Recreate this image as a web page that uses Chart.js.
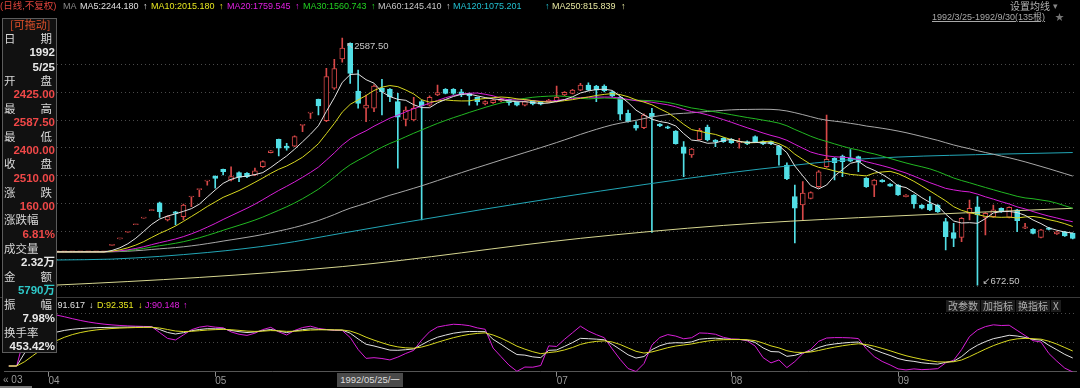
<!DOCTYPE html>
<html>
<head>
<meta charset="utf-8">
<script src="https://cdn.jsdelivr.net/npm/chart.js@4.4.1/dist/chart.umd.min.js"></script>
<style>
  html, body { margin: 0; background: #000; }
  body { position: relative; width: 1080px; height: 388px; overflow: hidden;
         font-family: "Liberation Sans", "Noto Sans CJK SC", sans-serif; }
  canvas { position: absolute; left: 0; }
  #priceChart { top: 0; }
  #kdjChart { top: 297px; }
  .t { position: absolute; white-space: nowrap; font-size: 9px; line-height: 12px; }
  #sep { position: absolute; left: 0; top: 297px; width: 1080px; height: 1px; background: #3a3a3a; }
  #panel { position: absolute; left: 2px; top: 18px; width: 53px; height: 333px; background: #111;
           border: 1px solid #5c5c5c; }
  .lab { position: absolute; left: 4px; width: 48px; height: 14px; line-height: 14px; font-size: 11.5px;
         color: #d8d8d8; font-family: "Noto Sans CJK SC", sans-serif; display: flex; justify-content: space-between; }
  .val { position: absolute; left: 3px; width: 52px; height: 14px; line-height: 14px; text-align: right;
         font-size: 11.5px; font-weight: bold; color: #e8e8e8; }
  .red { color: #f04848; }
  .btn { position: absolute; top: 300px; height: 12px; line-height: 12px; font-size: 10px; color: #b0b0b0;
         background: #1c1c1c; padding: 0 2px; font-family: "Noto Sans CJK SC", sans-serif; }
</style>
</head>
<body>
<canvas id="priceChart" width="1080" height="297"></canvas>
<canvas id="kdjChart" width="1080" height="91"></canvas>
<div id="sep"></div>

<!-- top header -->
<div class="t" style="left:0;top:0;color:#e0443c;font-size:9.5px">(日线,不复权)</div>
<div class="t" style="left:63px;top:0;color:#8a8a8a">MA</div>
<div class="t" style="left:80px;top:0;color:#e0e0e0">MA5:2244.180</div>
<div class="t" style="left:143px;top:0;color:#e0e0e0">↑</div>
<div class="t" style="left:151px;top:0;color:#e6e620">MA10:2015.180</div>
<div class="t" style="left:219px;top:0;color:#e6e620">↑</div>
<div class="t" style="left:227px;top:0;color:#e020e0">MA20:1759.545</div>
<div class="t" style="left:295px;top:0;color:#e020e0">↑</div>
<div class="t" style="left:303px;top:0;color:#22d022">MA30:1560.743</div>
<div class="t" style="left:371px;top:0;color:#22d022">↑</div>
<div class="t" style="left:378px;top:0;color:#c8c8c8">MA60:1245.410</div>
<div class="t" style="left:446px;top:0;color:#c8c8c8">↑</div>
<div class="t" style="left:453px;top:0;color:#22c0d0">MA120:1075.201</div>
<div class="t" style="left:545px;top:0;color:#22c0d0">↑</div>
<div class="t" style="left:552px;top:0;color:#e6e6a0">MA250:815.839</div>
<div class="t" style="left:621px;top:0;color:#e6e6a0">↑</div>
<div class="t" style="left:1010px;top:0;color:#b4b4b4;font-size:10px;font-family:'Noto Sans CJK SC'">设置均线</div>
<div class="t" style="left:1053px;top:0;color:#888">▾</div>
<div class="t" style="left:932px;top:11px;color:#a8a8a8;text-decoration:underline">1992/3/25-1992/9/30(135根)</div>
<div class="t" style="left:1055px;top:11px;color:#777">★</div>

<!-- KDJ header -->
<div class="t" style="left:49px;top:299px;color:#e0e0e0">K:91.617</div>
<div class="t" style="left:89px;top:299px;color:#e0e0e0">↓</div>
<div class="t" style="left:97px;top:299px;color:#e6e620">D:92.351</div>
<div class="t" style="left:138px;top:299px;color:#e6e620">↓</div>
<div class="t" style="left:145px;top:299px;color:#e020e0">J:90.148</div>
<div class="t" style="left:183px;top:299px;color:#e020e0">↑</div>
<div class="btn" style="left:946px">改参数</div>
<div class="btn" style="left:981px">加指标</div>
<div class="btn" style="left:1016px">换指标</div>
<div class="btn" style="left:1051px">X</div>

<!-- bottom row -->
<div class="t" style="left:3px;top:374px;color:#999;font-size:10px">« 03</div>
<div class="t" style="left:337px;top:373px;width:66px;height:14px;line-height:14px;background:#4a4a4a;color:#ddd;font-size:9.5px;text-align:center">1992/05/25/一</div>
<div style="position:absolute;left:0;top:386px;width:32px;height:2px;background:#777"></div>

<!-- data window -->
<div id="panel"></div>
<div class="t" style="left:10px;top:18px;color:#e0502a;font-size:11px;font-family:'Noto Sans CJK SC'">[可拖动]</div>
<div class="lab" style="top:31px"><span>日</span><span>期</span></div>
<div class="val" style="top:45px">1992</div>
<div class="val" style="top:60px">5/25</div>
<div class="lab" style="top:73px"><span>开</span><span>盘</span></div>
<div class="val red" style="top:87px">2425.00</div>
<div class="lab" style="top:101px"><span>最</span><span>高</span></div>
<div class="val red" style="top:115px">2587.50</div>
<div class="lab" style="top:129px"><span>最</span><span>低</span></div>
<div class="val red" style="top:143px">2400.00</div>
<div class="lab" style="top:156px"><span>收</span><span>盘</span></div>
<div class="val red" style="top:171px">2510.00</div>
<div class="lab" style="top:185px"><span>涨</span><span>跌</span></div>
<div class="val red" style="top:199px">160.00</div>
<div class="lab" style="top:212px"><span>涨跌幅</span></div>
<div class="val red" style="top:227px">6.81%</div>
<div class="lab" style="top:241px"><span>成交量</span></div>
<div class="val" style="top:255px">2.32万</div>
<div class="lab" style="top:269px"><span>金</span><span>额</span></div>
<div class="val" style="top:283px;color:#2ec8c8">5790万</div>
<div class="lab" style="top:297px"><span>振</span><span>幅</span></div>
<div class="val" style="top:311px">7.98%</div>
<div class="lab" style="top:325px"><span>换手率</span></div>
<div class="val" style="top:339px">453.42%</div>

<script>
// daily bars 1992/3/25 - 1992/9/30 (135 bars)
const opens = [930,930,930,930,930,930,930,930,930,930,930,930,930,
  980,1031,1082,1140,1192,1250,1311,1177,1241,1203,1355,1412,1478,1518,1570,1487,1544,
  1539,1526,1590,1699,1802,1750,1750,1910,2005,2112,1947,2198,2425,2546,2177,2043,2043,
  2198,2190,2094,1957,1952,2094,2068,2146,2190,2190,2171,2159,2128,2076,2086,2100,2112,
  2089,2068,2102,2094,2091,2094,2146,2159,2184,2223,2215,2215,2171,2128,2004,1913,1892,
  2004,1921,1900,1867,1745,1681,1799,1898,1797,1810,1802,1776,1784,1824,1784,1784,1750,
  1603,1359,1293,1345,1435,1590,1655,1673,1655,1668,1500,1448,1487,1456,1448,1358,1371,
  1293,1301,1293,1164,1079,1043,1229,1280,1198,1203,1268,1198,1255,1113,1105,1043,1117,
  1069,1086,1074];
const highs = [930,930,930,930,930,930,930,930,930,930,930,930,930,
  984,1035,1086,1144,1196,1255,1315,1210,1245,1300,1358,1415,1482,1520,1572,1590,1550,
  1545,1580,1635,1716,1805,1771,1830,1913,2009,2115,2353,2422,2587.5,2550,2340,2146,2225,
  2267,2195,2159,2055,2128,2107,2140,2223,2195,2195,2190,2160,2130,2100,2110,2120,2115,
  2092,2100,2105,2097,2112,2215,2172,2190,2236,2241,2220,2225,2175,2135,2030,1939,2000,
  2043,1925,1905,1870,1784,1732,1888,1913,1800,1815,1808,1810,1790,1830,1790,1788,1755,
  1621,1448,1474,1395,1560,1991,1660,1680,1723,1672,1505,1490,1490,1460,1452,1375,1375,
  1297,1358,1297,1190,1151,1195,1332,1358,1235,1293,1272,1280,1260,1151,1110,1105,1120,
  1090,1090,1078];
const lows = [930,930,930,930,930,930,930,930,930,930,930,930,930,
  980,1031,1082,1140,1192,1250,1198,1170,1138,1177,1280,1358,1448,1423,1526,1480,1474,
  1505,1520,1585,1697,1673,1719,1745,1861,1965,1991,1940,2190,2400,2236,2043,1939,2016,
  1991,2094,1578,1906,1945,1177,2060,2140,2155,2150,2133,2068,2068,2070,2080,2095,2068,
  2062,2062,2070,2070,2088,2090,2140,2155,2180,2180,2094,2170,2130,1952,1935,1874,1885,
  1080,1900,1884,1765,1513,1663,1795,1790,1745,1778,1770,1733,1760,1778,1760,1760,1603,
  1490,999,1177,1340,1430,1585,1487,1513,1630,1551,1430,1358,1470,1437,1368,1355,1268,
  1263,1250,1236,945,970,1009,1177,672.5,1061,1198,1236,1193,1086,1110,1070,1038,1100,
  1065,1050,1030];
const closes = [930,930,930,930,930,930,930,930,930,930,930,930,930,
  984,1035,1086,1144,1196,1255,1241,1203,1229,1293,1358,1415,1482,1500,1551,1513,1508,
  1513,1559,1629,1714,1733,1733,1823,1913,2009,2061,2288,2350,2510,2314,2081,2068,2215,
  2171,2133,1975,2030,2043,2061,2128,2164,2159,2159,2146,2138,2094,2094,2107,2115,2086,
  2068,2094,2076,2074,2107,2128,2167,2184,2223,2184,2184,2179,2138,1998,1939,1888,1991,
  1978,1906,1888,1768,1694,1727,1872,1797,1784,1784,1776,1784,1766,1784,1766,1766,1681,
  1497,1268,1386,1389,1551,1647,1621,1629,1634,1626,1435,1487,1474,1440,1371,1371,1301,
  1268,1255,1241,1048,1035,1190,1268,1216,1229,1255,1241,1275,1172,1125,1074,1100,1105,
  1086,1053,1035];

// price before the window (flat lines at the left edge)
const priorClose = 930;

// long averages at sample bars
const ma120Idx = [0, 6, 13, 25, 34, 42, 50, 69, 91, 98, 105, 112, 125, 134];
const ma120Val = [859, 867, 874, 925, 990, 1075, 1160, 1350, 1545, 1595, 1640, 1665, 1688, 1700];
const ma250Idx = [0, 6, 42, 72, 90, 107, 134];
const ma250Val = [663, 673, 816, 1035, 1135, 1195, 1268];

const maPeriods = [5, 10, 20, 30, 60];
const maColors = ['#e2e2e2', '#d8d820', '#d81ed8', '#22b822', '#a8a8a8'];

// axis marks
const monthIdx = [5, 26, 69, 91, 112];
const monthLabels = ['04', '05', '07', '08', '09'];
const priceGrid = [2384, 2168, 1952, 1737, 1521, 1305, 1090, 874, 658];
const kdjGrid = [59.8, 135.1];
const kdjFirst = 2;

const RED = '#d84848', CYAN = '#52dfe6';
const labels = closes.map((_, i) => i);
const up = closes.map((c, i) => c >= opens[i]);

function movingAverage(n) {
    return closes.map((_, i) => {
        let s = 0;
        for (let k = i - n + 1; k <= i; k++) s += k >= 0 ? closes[k] : priorClose;
        return s / n;
    });
}

function sparse(idx, vals) {
    const out = closes.map(() => null);
    idx.forEach((i, j) => { out[i] = vals[j]; });
    return out;
}

/* KDJ(9,3,3) from the bars */
const K = [], D = [], J = [];
let k = 0, d = 0;
for (let i = 0; i < closes.length; i++) {
    if (i < kdjFirst) { K.push(0); D.push(0); J.push(0); continue; }
    let hh = -Infinity, ll = Infinity;
    for (let t = i - 8; t <= i; t++) {
        hh = Math.max(hh, t >= 0 ? highs[t] : priorClose);
        ll = Math.min(ll, t >= 0 ? lows[t] : priorClose);
    }
    const rsv = hh === ll ? 100 : (closes[i] - ll) / (hh - ll) * 100;
    k = (2 * k + rsv) / 3;
    d = (2 * d + k) / 3;
    K.push(k); D.push(d); J.push(3 * k - 2 * d);
}

const lineDs = (data, color, extra) => Object.assign({
    type: 'line', data, borderColor: color, borderWidth: 1, pointRadius: 0, tension: 0, order: 0
}, extra || {});

const maDatasets = maPeriods.map((n, j) => lineDs(movingAverage(n), maColors[j]));
maDatasets.push(lineDs(sparse(ma120Idx, ma120Val), '#22a6b6', { spanGaps: true, cubicInterpolationMode: 'monotone' }));
maDatasets.push(lineDs(sparse(ma250Idx, ma250Val), '#d6d690', { spanGaps: true, cubicInterpolationMode: 'monotone' }));

/* high / low labels */
const extremes = {
    id: 'extremes',
    afterDatasetsDraw(chart) {
        const { ctx, scales: { x, y } } = chart;
        const hi = highs.indexOf(Math.max(...highs));
        const lo = lows.indexOf(Math.min(...lows));
        ctx.save();
        ctx.fillStyle = '#c8c8c8';
        ctx.font = '9.5px "Liberation Sans", "DejaVu Sans"';
        ctx.textBaseline = 'middle';
        ctx.fillText('↖' + highs[hi].toFixed(2), x.getPixelForValue(hi) + 4, y.getPixelForValue(highs[hi]) + 8);
        ctx.fillText('↙' + lows[lo].toFixed(2), x.getPixelForValue(lo) + 5, y.getPixelForValue(lows[lo]) - 4);
        ctx.restore();
    }
};

new Chart(document.getElementById('priceChart'), {
    type: 'bar',
    data: {
        labels,
        datasets: [
            {
                data: lows.map((l, i) => [l, highs[i]]),
                backgroundColor: up.map(u => u ? RED : CYAN),
                barThickness: 1, grouped: false, order: 2
            },
            {
                data: opens.map((o, i) => [o, closes[i]]),
                backgroundColor: up.map(u => u ? '#000' : CYAN),
                borderColor: up.map(u => u ? RED : CYAN),
                borderWidth: 1, borderSkipped: false, minBarLength: 1,
                barThickness: 5, grouped: false, order: 1
            },
            ...maDatasets
        ]
    },
    options: {
        responsive: false, animation: false, devicePixelRatio: 1, events: [],
        layout: { padding: { left: 4.8, right: 3.3, top: 27, bottom: 1 } },
        plugins: { legend: { display: false }, tooltip: { enabled: false } },
        scales: {
            x: { display: false, offset: true },
            y: {
                min: 588, max: 2673,
                afterFit: s => { s.width = 0; },
                afterBuildTicks: s => { s.ticks = priceGrid.map(v => ({ value: v })); },
                ticks: { display: false },
                border: { display: false, dash: [1, 3] },
                grid: { color: '#4a4a4a', drawTicks: false }
            }
        }
    },
    plugins: [extremes]
});

new Chart(document.getElementById('kdjChart'), {
    type: 'line',
    data: {
        labels,
        datasets: [
            lineDs(K, '#e2e2e2', { order: 2 }),
            lineDs(D, '#d8d820', { order: 1 }),
            lineDs(J, '#d81ed8', { order: 3 })
        ]
    },
    options: {
        responsive: false, animation: false, devicePixelRatio: 1, events: [],
        layout: { padding: { left: 4.8, right: 3.3, top: 1, bottom: 0 } },
        plugins: { legend: { display: false }, tooltip: { enabled: false } },
        scales: {
            x: {
                offset: true,
                afterFit: s => { s.height = 16.3; },
                grid: { drawOnChartArea: false, offset: false, tickLength: 5, color: '#8a8a8a' },
                border: { color: '#555' },
                ticks: {
                    autoSkip: false, maxRotation: 0, align: 'start', padding: -1,
                    color: '#9a9a9a', font: { size: 10, family: 'Liberation Sans' },
                    callback: (v, i) => {
                        const m = monthIdx.indexOf(i);
                        return m >= 0 ? monthLabels[m] : null;
                    }
                }
            },
            y: {
                min: -14.6, max: 174.4,
                afterFit: s => { s.width = 0; },
                afterBuildTicks: s => { s.ticks = kdjGrid.map(v => ({ value: v })); },
                ticks: { display: false },
                border: { display: false, dash: [1, 3] },
                grid: { color: '#4a4a4a', drawTicks: false }
            }
        }
    }
});
</script>
</body>
</html>
